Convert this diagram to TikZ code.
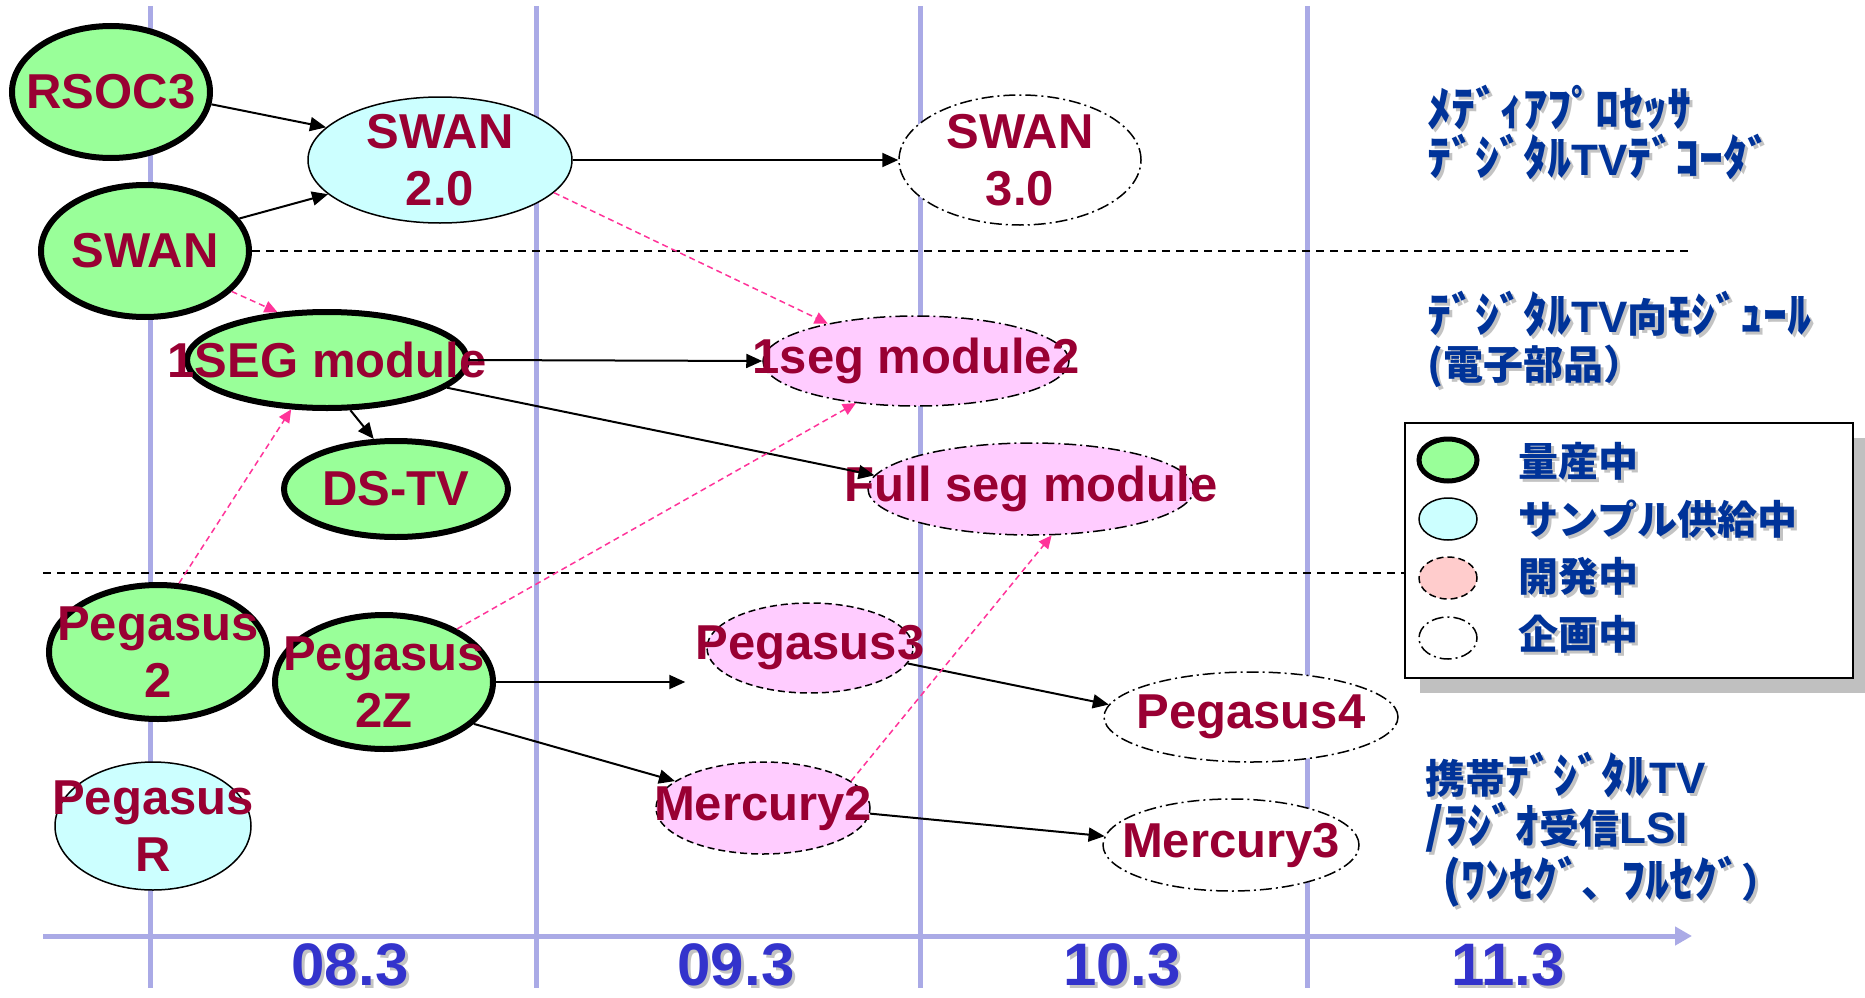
\documentclass[tikz,border=0pt]{standalone}
\usepackage{fontspec}
\usepackage{graphicx}
\setmainfont{Liberation Sans}
\newfontfamily\jpfont{Noto Sans CJK JP}
\usetikzlibrary{shapes.geometric,arrows.meta,shadows}
\definecolor{nodered}{RGB}{153,0,51}
\definecolor{massgreen}{RGB}{153,255,153}
\definecolor{samplecyan}{RGB}{204,255,255}
\definecolor{develpink}{RGB}{255,204,255}
\definecolor{legendpink}{RGB}{255,204,204}
\definecolor{hintpink}{RGB}{255,51,153}
\definecolor{gridblue}{RGB}{170,170,230}
\definecolor{yearblue}{RGB}{51,51,204}
\definecolor{catblue}{RGB}{0,51,153}
\definecolor{shade}{RGB}{195,195,195}
\definecolor{boxshade}{RGB}{192,192,192}
\tikzset{
  % product stages: in production, sampling, in development, planned
  mass/.style={ellipse,draw,line width=6pt,fill=massgreen,inner sep=0pt},
  sample/.style={ellipse,draw,line width=1.5pt,fill=samplecyan,inner sep=0pt},
  devel/.style={ellipse,draw,line width=1.5pt,fill=develpink,inner sep=0pt,
    dash pattern=on 7pt off 4pt},
  develdot/.style={devel,dash pattern=on 12pt off 4pt on 2pt off 4pt},
  plan/.style={ellipse,draw,line width=1.5pt,fill=white,inner sep=0pt,
    dash pattern=on 12pt off 4pt on 2pt off 4pt},
  tag/.style={font=\fontsize{49}{57}\selectfont\bfseries,text=nodered,
    align=center,inner sep=0pt},
  group/.style={font=\jpfont\bfseries\fontsize{40}{47}\selectfont,text=catblue,
    align=left,inner sep=0pt,anchor=west},
  flow/.style={draw,line width=2pt,-{Triangle[length=16pt,width=14pt]}},
  hint/.style={draw,hintpink,line width=1.5pt,dash pattern=on 6pt off 4pt,
    -{Triangle[length=13pt,width=12pt]}},
  gridline/.style={gridblue,line width=5pt},
  sep/.style={line width=1.5pt,dash pattern=on 8pt off 6pt}
}
\newcommand\shd[1]{\makebox[0pt][l]{\hspace{3pt}\raisebox{-3pt}{\color{shade}#1}}#1}
\newcommand\hk[1]{\scalebox{1.2}[1.2]{#1}}
\newcommand\lat[1]{{\rmfamily\fontsize{44}{47}\selectfont #1}}

\begin{document}
\begin{tikzpicture}[x=1pt,y=-1pt]
\useasboundingbox (0,0) rectangle (1865,998);
% time grid
\foreach \x in {150,536,920,1307}
  \draw[gridline] (\x,6) -- (\x,988);
\draw[gridline,-{Triangle[length=17pt,width=18pt]}] (43,936) -- (1692,936);
\foreach \x/\yr [count=\i] in {350/08.3,736/09.3,1122/10.3,1508/11.3}
  \node[font=\fontsize{60}{60}\selectfont\bfseries,text=yearblue] (yr\i) at (\x,966) {\shd{\yr}};

% products
\node[mass,minimum width=198pt,minimum height=132pt,label={[tag]center:RSOC3}] (rsoc) at (111,92) {};
\node[mass,minimum width=208pt,minimum height=132pt,label={[tag]center:SWAN}] (swan) at (145,251) {};
\node[sample,minimum width=264pt,minimum height=126pt,label={[tag]center:SWAN\\2.0}] (swan2) at (440,160) {};
\node[plan,minimum width=242pt,minimum height=130pt,label={[tag]center:SWAN\\3.0}] (swan3) at (1020,160) {};
\node[mass,minimum width=280pt,minimum height=96pt,label={[tag]center:1SEG module}] (seg1) at (327,360) {};
\node[mass,minimum width=224pt,minimum height=96pt,label={[tag]center:DS-TV}] (dstv) at (396,489) {};
\node[develdot,minimum width=306pt,minimum height=90pt,label={[tag]center:1seg module2}] (seg2) at (916,361) {};
\node[develdot,minimum width=326pt,minimum height=92pt,label={[tag]center:Full seg module}] (fullseg) at (1031,489) {};
\node[mass,minimum width=218pt,minimum height=134pt,label={[tag]center:Pegasus\\2}] (peg2) at (158,652) {};
\node[mass,minimum width=218pt,minimum height=134pt,label={[tag]center:Pegasus\\2Z}] (peg2z) at (384,682) {};
\node[sample,minimum width=196pt,minimum height=128pt,label={[tag]center:Pegasus\\R}] (pegr) at (153,826) {};
\node[devel,minimum width=206pt,minimum height=90pt,label={[tag]center:Pegasus3}] (peg3) at (810,648) {};
\node[plan,minimum width=294pt,minimum height=90pt,label={[tag]center:Pegasus4}] (peg4) at (1251,717) {};
\node[devel,minimum width=214pt,minimum height=92pt,label={[tag]center:Mercury2}] (merc2) at (763,808) {};
\node[plan,minimum width=256pt,minimum height=92pt,label={[tag]center:Mercury3}] (merc3) at (1231,845) {};

% category separators
\coordinate (sepA) at (1690,254);
\coordinate (sepL) at (43,573);
\coordinate (sepR) at (1690,573);
\draw[sep] (swan.east) -- (swan.east -| sepA);
\draw[sep] (sepL) -- (sepR);

% successors
\draw[flow] (rsoc.-7) -- (swan2.164);
\draw[flow] (swan.19) -- (swan2.-163);
\draw[flow] (swan2.east) -- (swan3.west);
\draw[flow] (seg1.east) -- (seg2.west);
\draw[flow] (seg1.-65) -- (dstv.114);
\draw[flow] (seg1.-13) -- (fullseg.175);
\draw[flow,shorten >=21pt] (peg2z.east) -- (peg2z.east -| peg3.west);
\draw[flow] (peg3.-9) -- (peg4.175);
\draw[flow] (peg2z.-25) -- (merc2.163);
\draw[flow] (merc2.-3) -- (merc3.176);
% chips used in modules
\draw[hint] (swan.-25) -- (seg1.136);
\draw[hint] (swan2.-16) -- (seg2.157);
\draw[hint] (peg2.73) -- (seg1.234);
\draw[hint] (peg2z.36) -- (seg2.215);
\draw[hint] (merc2.17) -- (fullseg.-66);

% categories
\node[group] (media) at (1427,134) {\shd{\hk{ﾒﾃﾞｨｱﾌﾟﾛｾｯｻ}}\\\shd{\hk{ﾃﾞｼﾞﾀﾙ}\lat{TV}\hk{ﾃﾞｺｰﾀﾞ}}};
\node[group] (module) at (1427,341) {\shd{\hk{ﾃﾞｼﾞﾀﾙ}\lat{TV}向\hk{ﾓｼﾞｭｰﾙ}}\\\shd{(電子部品）}};
\node[group] (mobile) at (1425,831) {\shd{携帯\hk{ﾃﾞｼﾞﾀﾙ}\lat{TV}}\\\shd{\hk{/ﾗｼﾞｵ}受信\lat{LSI}}\\\hspace{17pt}\shd{\hk{(ﾜﾝｾｸﾞ}、\hk{ﾌﾙｾｸﾞ}）}};

% legend
\node[draw,line width=2pt,fill=white,minimum width=448pt,minimum height=255pt,
  drop shadow={shadow xshift=15pt,shadow yshift=-15pt,fill=boxshade,opacity=1}] (legend) at (1629,550) {};
\node[mass,line width=5pt,minimum width=58pt,minimum height=42pt] (kmass) at (1448,460) {};
\node[sample,minimum width=58pt,minimum height=42pt] (ksample) at (1448,519) {};
\node[devel,fill=legendpink,minimum width=58pt,minimum height=42pt] (kdevel) at (1448,578) {};
\node[plan,minimum width=58pt,minimum height=42pt] (kplan) at (1448,638) {};
\node[group] (tmass) at (1518,463) {\shd{量産中}};
\node[group] (tsample) at (1518,521) {\shd{サンプル供給中}};
\node[group] (tdevel) at (1518,578) {\shd{開発中}};
\node[group] (tplan) at (1518,636) {\shd{企画中}};
\end{tikzpicture}
\end{document}
